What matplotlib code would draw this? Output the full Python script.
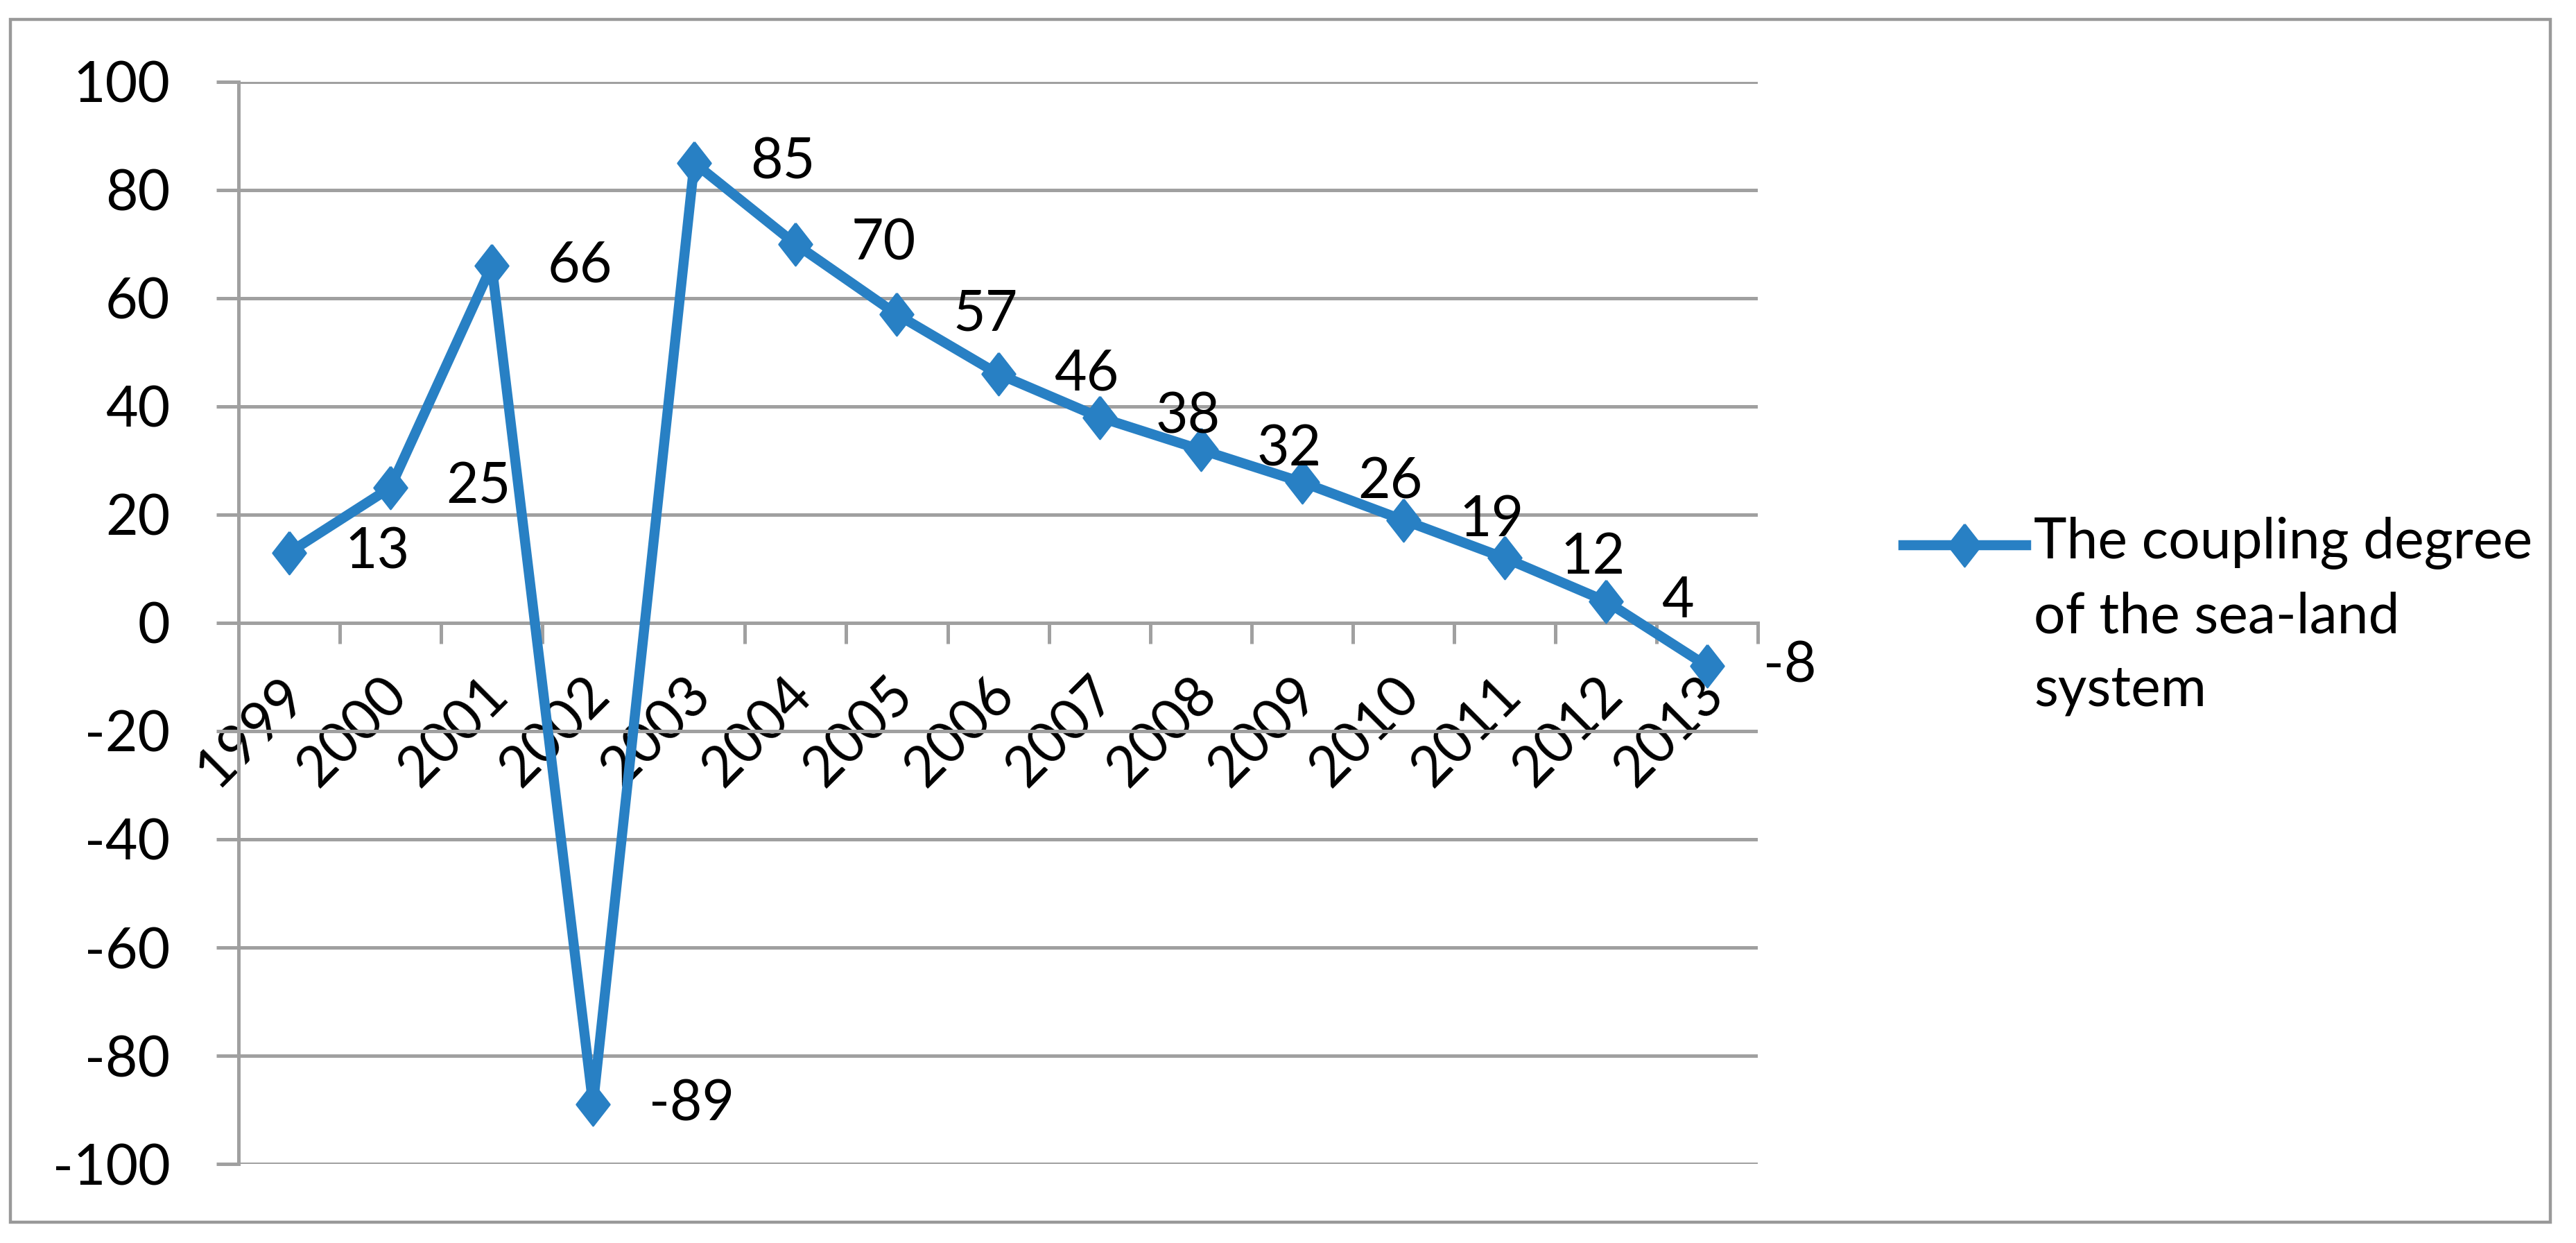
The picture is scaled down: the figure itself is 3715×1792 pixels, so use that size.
import numpy as np
import matplotlib.pyplot as plt
from matplotlib.lines import Line2D
from matplotlib.patches import Rectangle
import matplotlib.transforms as mtransforms

# =========================
# DATA
# =========================
years = ["1999", "2000", "2001", "2002", "2003", "2004", "2005", "2006",
         "2007", "2008", "2009", "2010", "2011", "2012", "2013"]
coupling = [13, 25, 66, -89, 85, 70, 57, 46, 38, 32, 26, 19, 12, 4, -8]
y_ticks = [-100, -80, -60, -40, -20, 0, 20, 40, 60, 80, 100]
series_name = "The coupling degree\nof the sea-land\nsystem"

# =========================
# STYLE
# =========================
plt.rcParams['font.family'] = ['Lato', 'DejaVu Sans']
FS = 29
BLUE = '#2880C4'
GRID = '#A0A0A0'
LW = 5.2
MS = 22

# tall diamond like the Excel marker
diamond = [(0, 1), (0.78, 0), (0, -1), (-0.78, 0), (0, 1)]

fig = plt.figure(figsize=(18.575, 8.96), dpi=200)
ax = fig.add_axes([0.0926, 0.0636, 0.5898, 0.8706])

x = np.arange(len(years))
ax.plot(x, coupling, color=BLUE, lw=LW, marker=diamond, ms=MS,
        markerfacecolor=BLUE, markeredgecolor=BLUE, zorder=3)

# data labels to the right of each point
for xi, v in zip(x, coupling):
    ax.annotate(str(v), (xi, v), xytext=(29, 0), textcoords='offset points',
                ha='left', va='center', fontsize=FS, color='black', zorder=4)

# =========================
# AXES
# =========================
ax.set_xlim(-0.5, len(years) - 0.5)
ax.set_ylim(-100, 100)
ax.set_yticks(y_ticks)
ax.set_yticklabels([str(t) for t in y_ticks], fontsize=FS)
ax.yaxis.grid(True, color=GRID, lw=1.8)
ax.set_axisbelow(True)

ax.spines['top'].set_visible(False)
ax.spines['right'].set_visible(False)
ax.spines['left'].set_color(GRID)
ax.spines['left'].set_linewidth(1.8)
ax.spines['bottom'].set_position(('data', 0))
ax.spines['bottom'].set_color(GRID)
ax.spines['bottom'].set_linewidth(1.8)

ax.tick_params(axis='y', direction='out', length=11.5, width=1.8,
               color=GRID, pad=24)

# category labels at centres, tick marks between categories
ax.set_xticks(x)
ax.set_xticklabels(years, fontsize=FS, rotation=45, ha='right', va='center',
                   rotation_mode='anchor')
ax.set_xticks(np.arange(-0.5, len(years), 1), minor=True)
ax.tick_params(axis='x', which='major', length=0, pad=33)
ax.tick_params(axis='x', which='minor', direction='out', length=10.8,
               width=1.8, color=GRID)
shift = mtransforms.ScaledTranslation(4 / 72, 0, fig.dpi_scale_trans)
for lab in ax.get_xticklabels():
    lab.set_transform(lab.get_transform() + shift)

# =========================
# LEGEND (handle beside first line)
# =========================
ly = 0.5614
fig.add_artist(Line2D([0.7389, 0.7865], [ly, ly], color=BLUE, lw=LW,
                      transform=fig.transFigure))
fig.add_artist(Line2D([0.7627], [ly], marker=diamond, ms=MS, color=BLUE,
                      transform=fig.transFigure))
fig.text(0.7895, 0.5840, series_name, fontsize=FS, ha='left', va='top',
         linespacing=1.52)

# outer chart border
fig.add_artist(Rectangle((0.004, 0.0167), 0.986, 0.9677, fill=False,
                         edgecolor='#999999', lw=1.6,
                         transform=fig.transFigure))

fig.savefig("out.png", dpi=200, facecolor='white')
